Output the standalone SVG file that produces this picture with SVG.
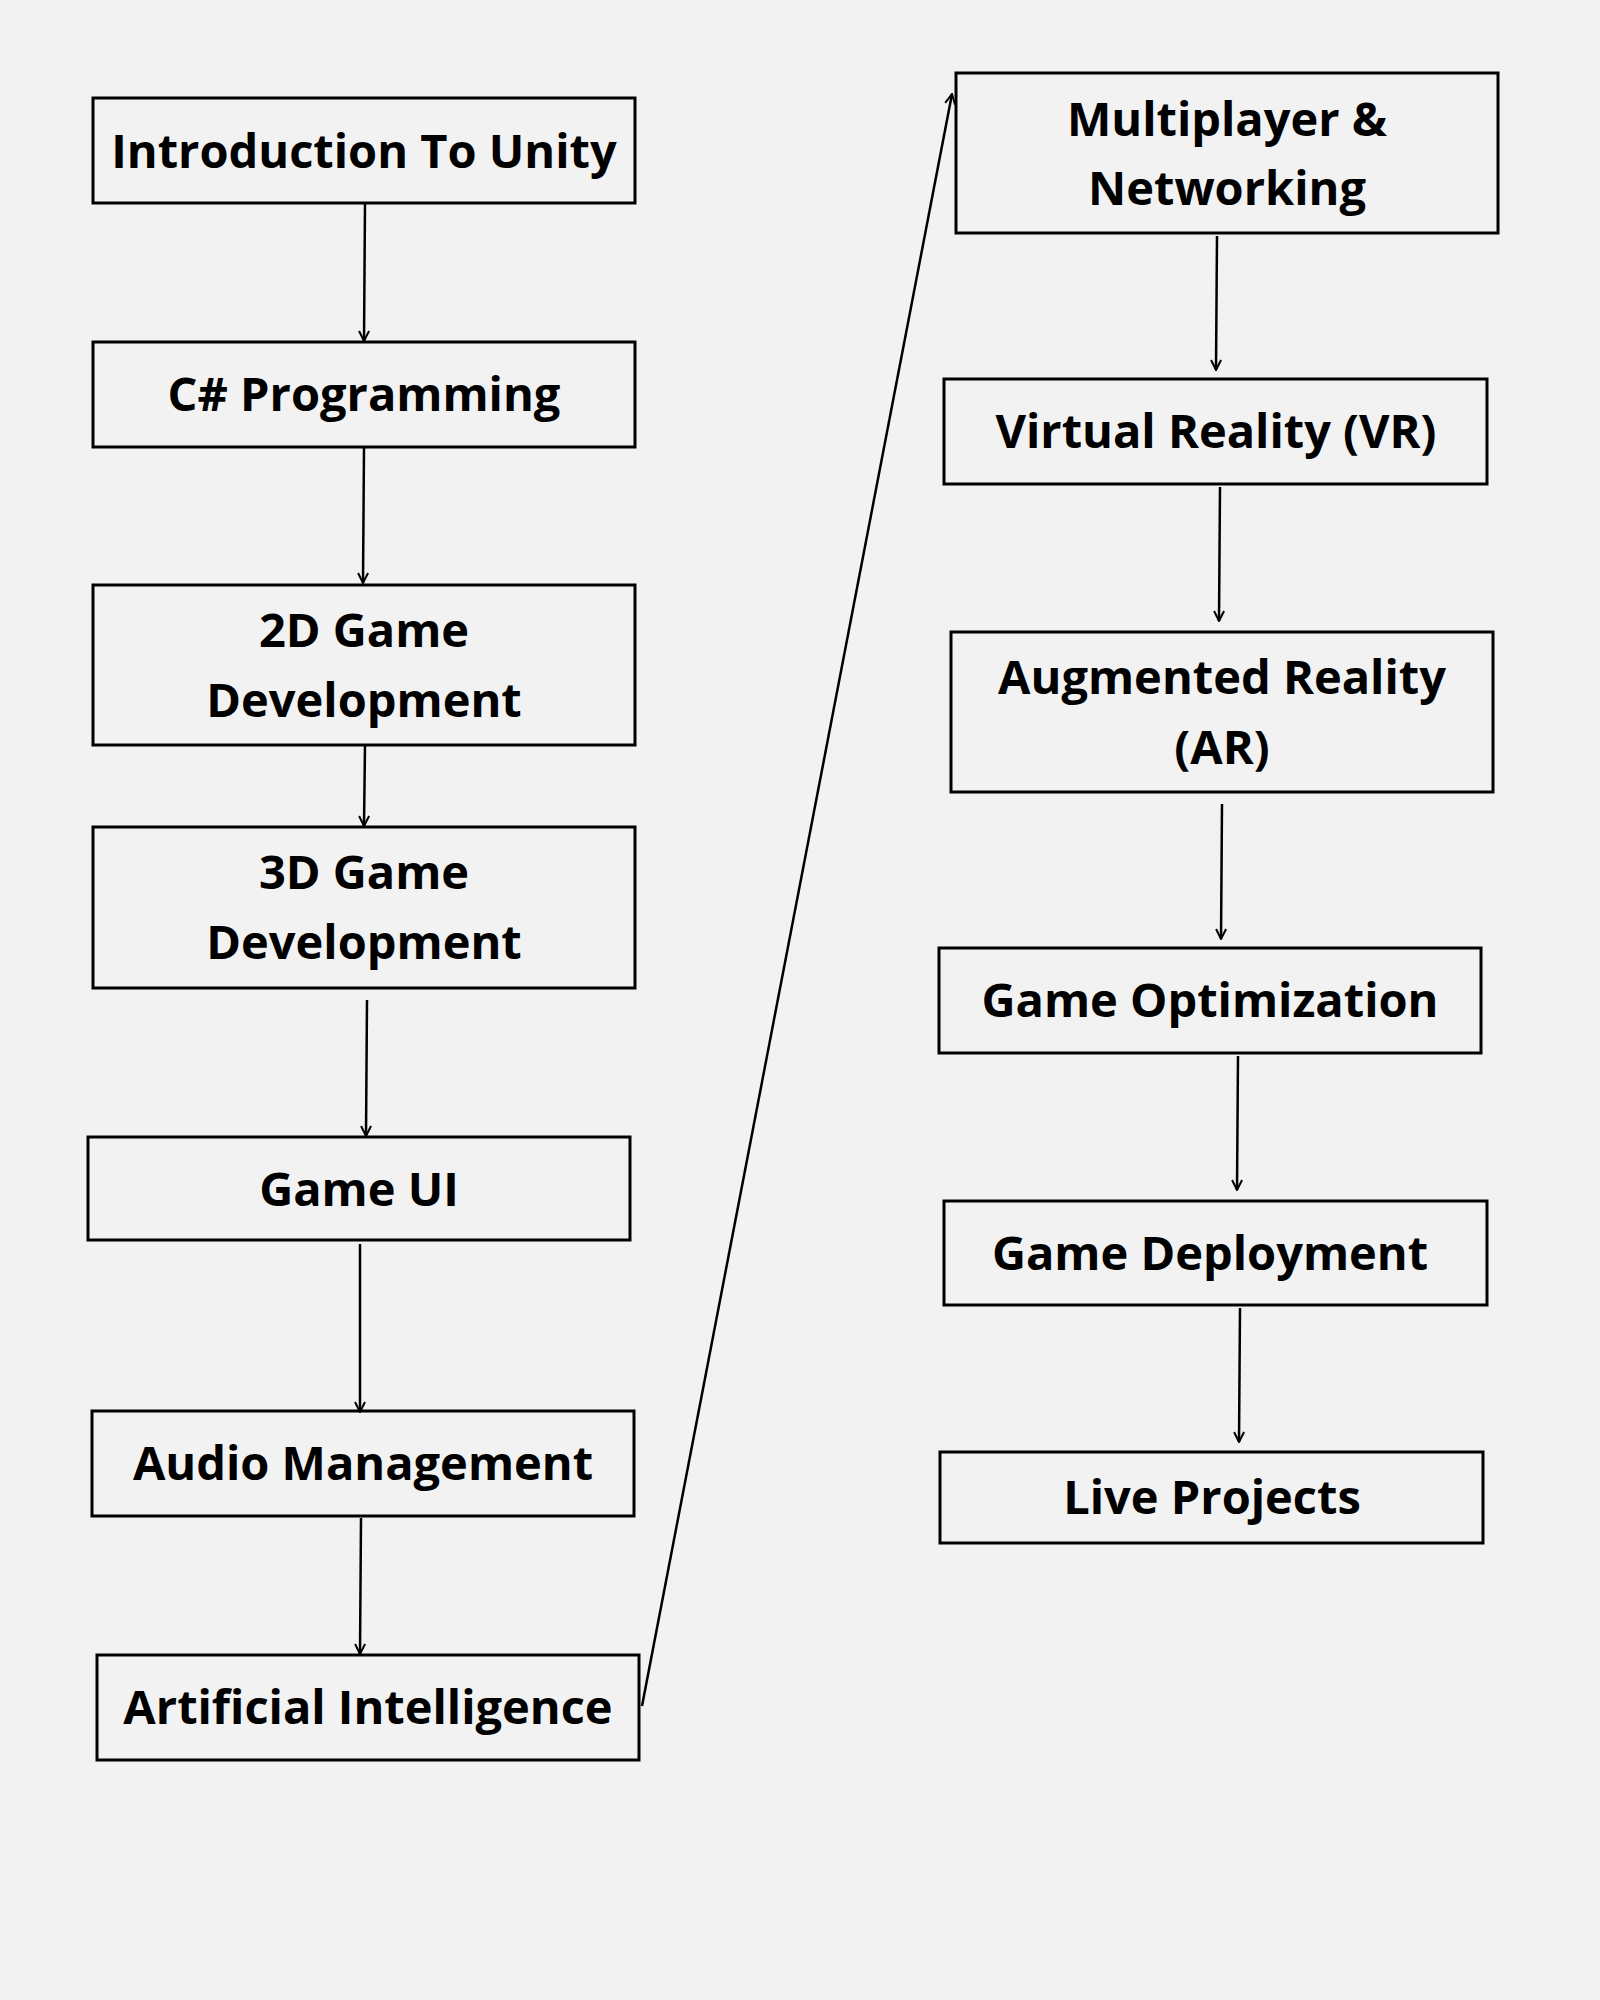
<svg xmlns="http://www.w3.org/2000/svg" width="1600" height="2000" viewBox="0 0 1600 2000">
<defs>
<marker id="ah" viewBox="0 0 10 10" refX="9" refY="5" markerWidth="5" markerHeight="5" orient="auto"><path d="M1,1 L9,5 L1,9" fill="none" stroke="#000" stroke-width="1.6"/></marker>
<style>
rect{fill:none;stroke:#000;stroke-width:3}
text{font-family:"Open Sans","Liberation Sans",sans-serif;font-weight:700;font-size:47px;fill:#000;text-anchor:middle}
line{stroke:#000;stroke-width:2.5;marker-end:url(#ah)}
</style>
</defs>
<rect x="0" y="0" width="1600" height="2000" style="fill:#f2f2f2;stroke:none"/>
<g id="n1"><rect x="93" y="98" width="542" height="105"/><text x="364" y="168">Introduction To Unity</text></g>
<g id="n2"><rect x="93" y="342" width="542" height="105"/><text x="364" y="411">C# Programming</text></g>
<g id="n3"><rect x="93" y="585" width="542" height="160"/><text x="364" y="647">2D Game</text><text x="364" y="717">Development</text></g>
<g id="n4"><rect x="93" y="827" width="542" height="161"/><text x="364" y="889">3D Game</text><text x="364" y="959">Development</text></g>
<g id="n5"><rect x="88" y="1137" width="542" height="103"/><text x="359" y="1206">Game UI</text></g>
<g id="n6"><rect x="92" y="1411" width="542" height="105"/><text x="363" y="1480">Audio Management</text></g>
<g id="n7"><rect x="97" y="1655" width="542" height="105"/><text x="368" y="1724">Artificial Intelligence</text></g>
<g id="n8"><rect x="956" y="73" width="542" height="160"/><text x="1227" y="136">Multiplayer &amp;</text><text x="1227" y="205">Networking</text></g>
<g id="n9"><rect x="944" y="379" width="543" height="105"/><text x="1216" y="448">Virtual Reality (VR)</text></g>
<g id="n10"><rect x="951" y="632" width="542" height="160"/><text x="1222" y="694">Augmented Reality</text><text x="1222" y="764">(AR)</text></g>
<g id="n11"><rect x="939" y="948" width="542" height="105"/><text x="1210" y="1017">Game Optimization</text></g>
<g id="n12"><rect x="944" y="1201" width="543" height="104"/><text x="1210" y="1270">Game Deployment</text></g>
<g id="n13"><rect x="940" y="1452" width="543" height="91"/><text x="1212" y="1514">Live Projects</text></g>
<g id="edges">
<line x1="365" y1="204" x2="364" y2="341"/>
<line x1="364" y1="447" x2="363" y2="583"/>
<line x1="365" y1="745" x2="364" y2="826"/>
<line x1="367" y1="1000" x2="366" y2="1136"/>
<line x1="360" y1="1244" x2="360" y2="1412"/>
<line x1="361" y1="1518" x2="360" y2="1654"/>
<line x1="642" y1="1706" x2="952" y2="94"/>
<line x1="1217" y1="236" x2="1216" y2="370"/>
<line x1="1220" y1="487" x2="1219" y2="621"/>
<line x1="1222" y1="804" x2="1221" y2="939"/>
<line x1="1238" y1="1056" x2="1237" y2="1190"/>
<line x1="1240" y1="1308" x2="1239" y2="1442"/>
</g>
</svg>
